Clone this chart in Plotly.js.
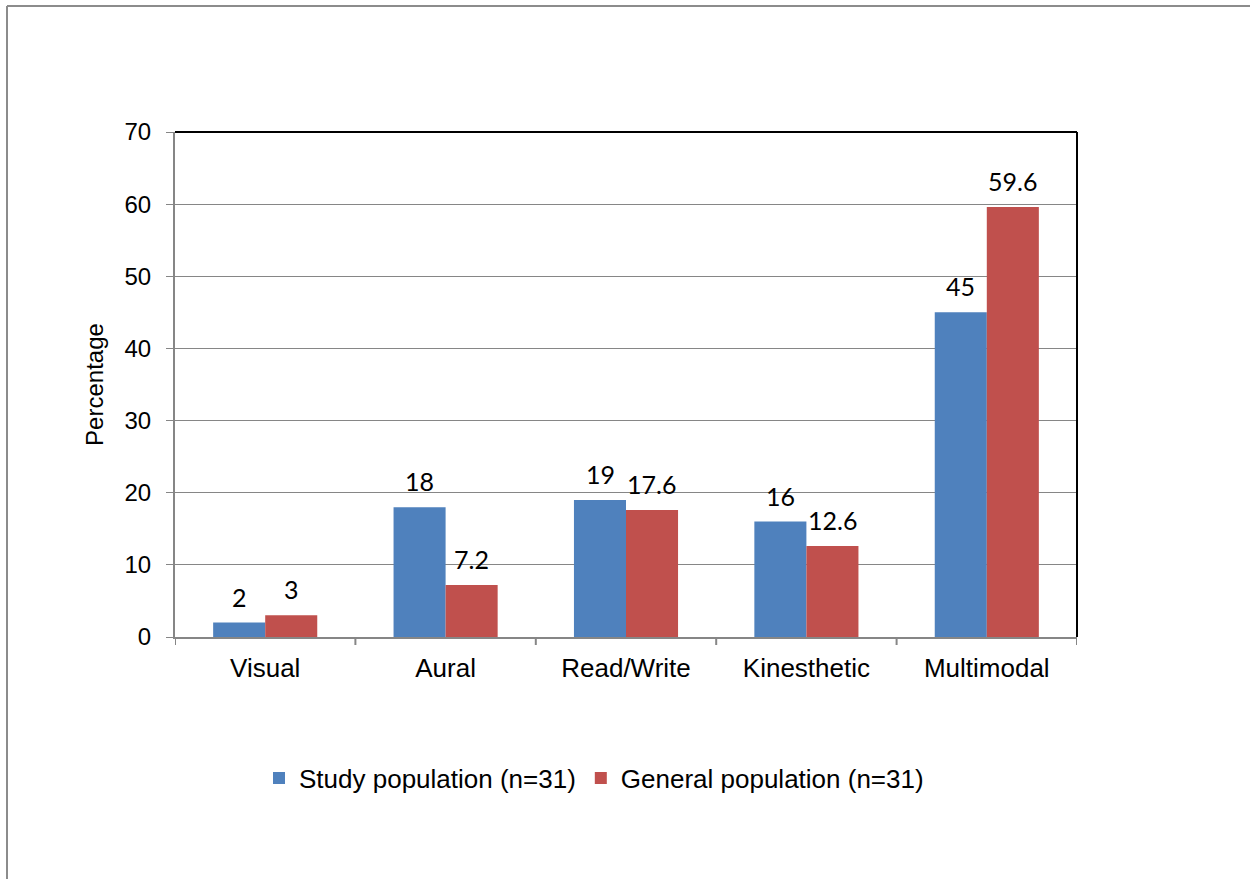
<!DOCTYPE html>
<html>
<head>
<meta charset="utf-8">
<script src="https://cdn.plot.ly/plotly-3.0.1.min.js"></script>
<style>html,body{margin:0;padding:0;background:#fff;}#chart{width:1250px;height:879px;}</style>
</head>
<body>
<div id="chart"></div>
<script>
const categories = ["Visual", "Aural", "Read/Write", "Kinesthetic", "Multimodal"];
const studyValues = [2, 18, 19, 16, 45];
const generalValues = [3, 7.2, 17.6, 12.6, 59.6];
const seriesNames = ["Study population (n=31)", "General population (n=31)"];
const yTicks = [0, 10, 20, 30, 40, 50, 60, 70];

const W = 1250, H = 879;
const L = 175, R = 1077, T = 132, B = 637;
const pw = R - L, ph = B - T;
const px = v => (v - L) / pw;
const py = v => (B - v) / ph;

const idx = categories.map((c, i) => i);
const barFrac = 0.288;
const arial = '"Liberation Sans", Arial, sans-serif';

const traces = [
  {type: 'bar', name: seriesNames[0], x: idx, y: studyValues, marker: {color: '#4F81BD'}},
  {type: 'bar', name: seriesNames[1], x: idx, y: generalValues, marker: {color: '#C0504D'}}
];

const annotations = [];
[studyValues, generalValues].forEach((vals, s) => {
  vals.forEach((v, i) => {
    annotations.push({
      x: i + (s === 0 ? -barFrac / 2 : barFrac / 2), y: v, xref: 'x', yref: 'y',
      text: String(v), showarrow: false, yanchor: 'middle', yshift: 26,
      font: {family: 'Lato, "Open Sans", sans-serif', size: 25, color: '#000'}
    });
  });
});

const layout = {
  width: W, height: H,
  margin: {l: L, r: W - R, t: T, b: H - B, pad: 0},
  paper_bgcolor: '#fff', plot_bgcolor: '#fff',
  barmode: 'group', bargap: 0.423, bargroupgap: 0,
  showlegend: true,
  legend: {orientation: 'h', x: px(594), xanchor: 'center', y: py(778), yanchor: 'middle',
    font: {family: arial, size: 26, color: '#000'},
    itemwidth: 30, traceorder: 'normal', tracegroupgap: 0},
  xaxis: {
    range: [-0.5, categories.length - 0.5],
    tickmode: 'array', tickvals: idx, ticktext: categories,
    showgrid: false, zeroline: false,
    showline: true, linecolor: '#868686', linewidth: 2,
    ticks: '', tickfont: {family: arial, size: 26, color: '#000'},
    ticklabelstandoff: 7
  },
  yaxis: {
    range: [0, 70], tickmode: 'array', tickvals: yTicks,
    showgrid: true, gridcolor: '#868686', gridwidth: 1,
    zeroline: false, showline: true, linecolor: '#868686', linewidth: 2,
    ticks: 'outside', ticklen: 7, tickcolor: '#868686', tickwidth: 1,
    ticklabelstandoff: 10,
    tickfont: {family: arial, size: 24, color: '#000'},
    title: {text: 'Percentage', font: {family: arial, size: 24, color: '#000'}, standoff: 14}
  },
  annotations: annotations,
  shapes: [
    {type: 'line', xref: 'paper', yref: 'paper', x0: px(7), x1: px(1260), y0: py(6), y1: py(6), line: {color: '#8c8c8c', width: 2}},
    {type: 'line', xref: 'paper', yref: 'paper', x0: px(7), x1: px(7), y0: py(6), y1: py(890), line: {color: '#8c8c8c', width: 2}},
    {type: 'line', xref: 'paper', yref: 'paper', x0: 0, x1: 1, y0: 1, y1: 1, line: {color: '#000', width: 2}},
    {type: 'line', xref: 'paper', yref: 'paper', x0: 1, x1: 1, y0: 0, y1: 1, line: {color: '#000', width: 2}}
  ]
};
for (let i = 0; i <= categories.length; i++) {
  layout.shapes.push({type: 'line', xref: 'x', yref: 'paper', x0: i - 0.5, x1: i - 0.5, y0: 0, y1: py(645), line: {color: '#868686', width: 2}});
}

Plotly.newPlot('chart', traces, layout, {displayModeBar: false, staticPlot: true});
</script>
</body>
</html>
